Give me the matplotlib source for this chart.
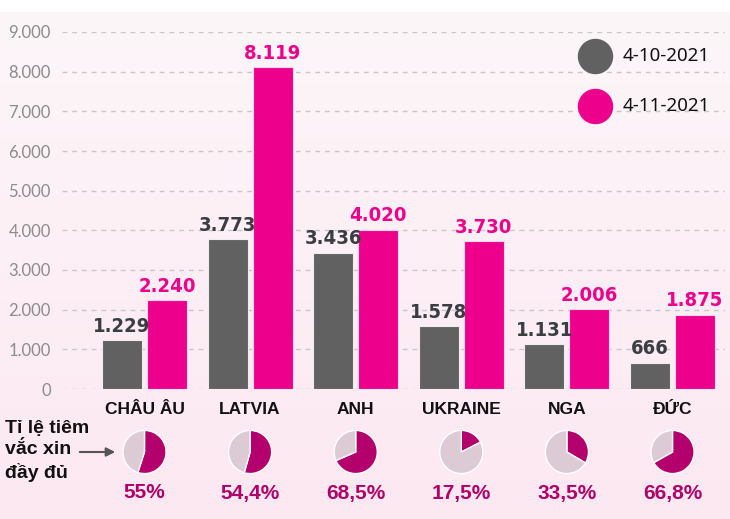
import numpy as np
import matplotlib
matplotlib.use("Agg")
from matplotlib import pyplot as plt
from matplotlib.patches import FancyArrowPatch

# Dữ liệu
categories = ["CHÂU ÂU", "LATVIA", "ANH", "UKRAINE", "NGA", "ĐỨC"]
cases_oct = [1229, 3773, 3436, 1578, 1131, 666]
cases_nov = [2240, 8119, 4020, 3730, 2006, 1875]
vaccinated = [55.0, 54.4, 68.5, 17.5, 33.5, 66.8]
series_names = ["4-10-2021", "4-11-2021"]
yticks = [0, 1000, 2000, 3000, 4000, 5000, 6000, 7000, 8000, 9000]

GRAY = "#616161"
PINK = "#ec008c"
PIE_DARK = "#b4006c"
PIE_LIGHT = "#dccad4"
BOLD = ["Liberation Sans", "DejaVu Sans"]


def vn(v):
    """ Định dạng số theo kiểu Việt Nam: 1.229 """
    return f"{v:,}".replace(",", ".")


def vn_pct(v):
    s = f"{v:.1f}".replace(".", ",")
    if s.endswith(",0"):
        s = s[:-2]
    return s + "%"


W, H = 730, 519
fig = plt.figure(figsize=(W / 100, H / 100), dpi=100)
fig.patch.set_facecolor("white")

# Nền hồng chuyển sắc
bg = fig.add_axes([0, 0, 1, 1 - 12 / H], zorder=-10)
grad = np.linspace(0, 1, 256).reshape(-1, 1)
top = np.array([0xfd, 0xf6, 0xf9]) / 255
bot = np.array([0xfc, 0xe8, 0xf1]) / 255
img = top + (bot - top) * grad[..., None]
bg.imshow(img, aspect="auto", extent=[0, 1, 0, 1])
bg.axis("off")

# Trục chính
left, right = 62, 725
y0, y9 = 389, 32
ax = fig.add_axes([left / W, 1 - y0 / H, (right - left) / W, (y0 - y9) / H])
ax.patch.set_alpha(0)
step = 105.6
x0 = -(144.5 - left) / step
ax.set_xlim(x0, x0 + (right - left) / step)
ax.set_ylim(0, 9000)

x = np.arange(len(categories))
bw = 40 / step
off = 22.5 / step
b1 = ax.bar(x - off, cases_oct, bw, color=GRAY, edgecolor="#eeeeee",
            linewidth=0.8, zorder=3)
b2 = ax.bar(x + off, cases_nov, bw, color=PINK, edgecolor="#f6d8e8",
            linewidth=0.8, zorder=3)

for bars, vals, col in ((b1, cases_oct, "#3a3d42"), (b2, cases_nov, PINK)):
    for r, v in zip(bars, vals):
        ax.annotate(vn(v), (r.get_x() + r.get_width() / 2, v),
                    xytext=(0, 6), textcoords="offset points",
                    ha="center", va="baseline", fontsize=14.5,
                    fontweight="bold", fontstretch="condensed",
                    color=col, family="DejaVu Sans")

ax.set_yticks(yticks)
ax.set_yticklabels([vn(t) for t in yticks], family=["Lato", "DejaVu Sans"],
                   fontsize=12, color="#8c8c8c")
ax.tick_params(axis="y", length=0, pad=8)
ax.set_xticks([])
for t in yticks:
    ax.axhline(t, color="#c8c8c8", lw=1, ls=(0, (3.5, 3.5)), zorder=1)
for s in ax.spines.values():
    s.set_visible(False)

# Chú thích
for name, col, yp in ((series_names[0], GRAY, 56), (series_names[1], PINK, 106)):
    ax.scatter([(595 - left) / (right - left)], [(y0 - yp) / (y0 - y9)],
               s=600, color=col, transform=ax.transAxes, clip_on=False, zorder=4)
    ax.text((623 - left) / (right - left), (y0 - yp) / (y0 - y9), name,
            transform=ax.transAxes, va="center", ha="left", fontsize=13.5,
            family=["Noto Sans", "DejaVu Sans"], color="#111111")

# Tên nước, biểu đồ tròn, tỉ lệ tiêm
for i, (cat, pct) in enumerate(zip(categories, vaccinated)):
    fx, _ = fig.transFigure.inverted().transform(ax.transData.transform((i, 0)))
    fig.text(fx, 1 - 409 / H, cat, ha="center", va="center", fontsize=12.5,
             fontweight="bold", family=BOLD, color="#111111")
    pw, ph = 44 / W, 44 / H
    pax = fig.add_axes([fx - pw / 2, 1 - 452 / H - ph / 2, pw, ph])
    pax.pie([pct, 100 - pct], colors=[PIE_DARK, PIE_LIGHT], startangle=90,
            counterclock=False, wedgeprops={"edgecolor": "white", "linewidth": 1})
    pax.set_xlim(-1.02, 1.02)
    pax.set_ylim(-1.02, 1.02)
    pax.set_aspect("equal")
    fig.text(fx, 1 - 493 / H, vn_pct(pct), ha="center", va="center",
             fontsize=15, fontweight="bold", family=BOLD, color="#b0006a")

for k, line in enumerate(["Tỉ lệ tiêm", "vắc xin", "đầy đủ"]):
    fig.text(5 / W, 1 - (428 + 22 * k) / H, line, ha="left", va="center",
             fontsize=14, fontweight="bold", family=BOLD, color="#111111")
fig.add_artist(FancyArrowPatch(
    (77 / W, 1 - 452 / H), (118 / W, 1 - 452 / H), transform=fig.transFigure,
    arrowstyle="-|>", mutation_scale=13, color="#555555", lw=1.5))

fig.savefig("out.png", dpi=100)
